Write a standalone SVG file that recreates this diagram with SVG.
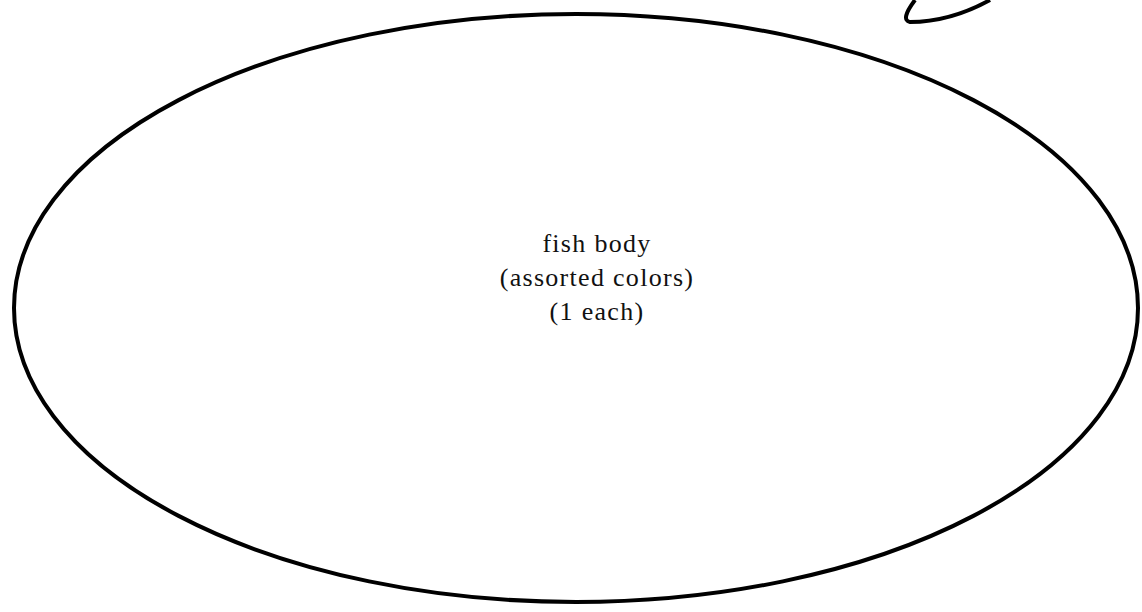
<svg xmlns="http://www.w3.org/2000/svg" width="1142" height="612" viewBox="0 0 1142 612">
<style>
.outline{fill:none;stroke:#000;stroke-width:4}
.lbl{font-family:"Liberation Serif",serif;font-size:26px;letter-spacing:1.3px;fill:#111;text-anchor:middle}
</style>
<rect width="1142" height="612" fill="#fff"/>
<g id="fin-top">
<path class="outline" stroke-width="3" d="M 915 0 Q 900 20 910 22 Q 950 22 990 0"/>
</g>
<g id="fish-body">
<ellipse class="outline" cx="576" cy="308" rx="562" ry="294"/>
<text class="lbl" x="597" y="252">fish body</text>
<text class="lbl" x="597" y="286">(assorted colors)</text>
<text class="lbl" x="597" y="320">(1 each)</text>
</g>
<g id="connectors"></g>
</svg>
